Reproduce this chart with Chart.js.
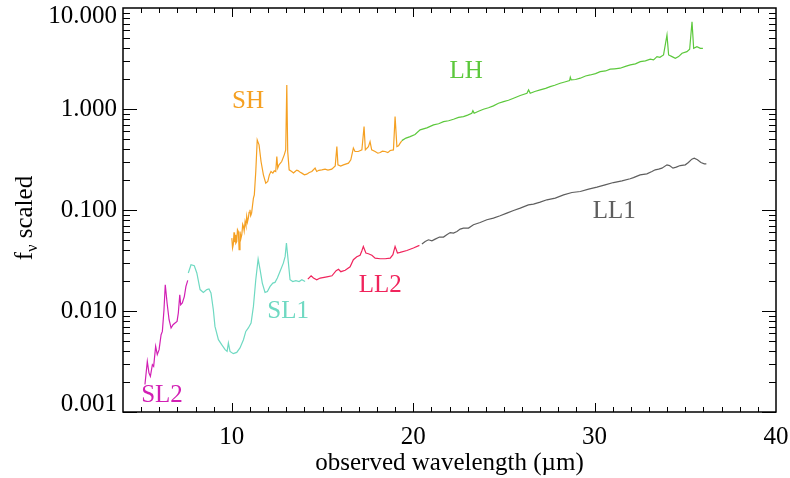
<!DOCTYPE html>
<html>
<head>
<meta charset="utf-8">
<script src="https://cdn.jsdelivr.net/npm/chart.js@4.4.1/dist/chart.umd.min.js"></script>
<style>
  html, body { margin: 0; padding: 0; background: #fff; }
  #wrap { width: 790px; height: 478px; }
</style>
</head>
<body>
<div id="wrap"><canvas id="spec"></canvas></div>
<script>
// wavelengths in micron, flux density (scaled)
const sl2Wave = [5.21, 5.34, 5.43, 5.51, 5.62, 5.69, 5.80, 5.89, 5.99, 6.10, 6.17, 6.26, 6.33, 6.43, 6.54, 6.65, 6.76, 6.87, 6.98, 7.05, 7.13, 7.18, 7.27, 7.38, 7.47, 7.57];
const sl2Flux = [0.00187, 0.00317, 0.00244, 0.00225, 0.00294, 0.00283, 0.00447, 0.00370, 0.00414, 0.00583, 0.00628, 0.0103, 0.0182, 0.0120, 0.0082, 0.00679, 0.00732, 0.0076, 0.00789, 0.00955, 0.0145, 0.0115, 0.0120, 0.0139, 0.0175, 0.0201];

const sl1Wave = [7.60, 7.75, 7.93, 8.07, 8.25, 8.43, 8.62, 8.74, 8.85, 8.98, 9.07, 9.26, 9.44, 9.63, 9.74, 9.81, 9.90, 10.08, 10.27, 10.45, 10.64, 10.77, 10.91, 11.06, 11.19, 11.32, 11.45, 11.56, 11.68, 11.83, 11.96, 12.11, 12.26, 12.38, 12.51, 12.66, 12.84, 12.94, 13.01, 13.12, 13.21, 13.36, 13.53, 13.71, 13.86, 14.04];
const sl1Flux = [0.0238, 0.0287, 0.0281, 0.0238, 0.0163, 0.0153, 0.0163, 0.0165, 0.0151, 0.0103, 0.00704, 0.0052, 0.00464, 0.00414, 0.00398, 0.00482, 0.00398, 0.00378, 0.00389, 0.00431, 0.0052, 0.00628, 0.00679, 0.0076, 0.0111, 0.0204, 0.0327, 0.0256, 0.0189, 0.0153, 0.0156, 0.0175, 0.0189, 0.0192, 0.0212, 0.0247, 0.0298, 0.0347, 0.0471, 0.0298, 0.0204, 0.0196, 0.0200, 0.0196, 0.0204, 0.0196];

const ll2Wave = [14.19, 14.37, 14.50, 14.68, 14.87, 15.24, 15.52, 15.75, 15.88, 16.01, 16.25, 16.52, 16.70, 16.89, 17.07, 17.17, 17.25, 17.39, 17.53, 17.72, 17.90, 18.18, 18.45, 18.73, 18.88, 19.00, 19.13, 19.28, 19.65, 20.01, 20.34];
const ll2Flux = [0.0207, 0.0223, 0.0212, 0.0204, 0.0212, 0.0218, 0.0223, 0.0251, 0.0259, 0.0245, 0.0253, 0.0274, 0.0322, 0.0344, 0.0356, 0.0395, 0.0436, 0.0375, 0.0369, 0.0356, 0.0334, 0.0329, 0.0329, 0.0334, 0.0361, 0.0436, 0.0375, 0.038, 0.0397, 0.042, 0.0446];

const ll1Wave = [20.48, 20.66, 20.84, 21.03, 21.21, 21.45, 21.67, 21.85, 22.04, 22.22, 22.41, 22.59, 22.77, 23.05, 23.32, 23.69, 24.06, 24.42, 24.79, 25.16, 25.53, 25.90, 26.35, 26.63, 27.00, 27.37, 27.83, 28.29, 28.75, 29.21, 29.67, 30.13, 30.58, 31.04, 31.51, 31.96, 32.14, 32.51, 32.88, 33.16, 33.34, 33.53, 33.71, 33.99, 34.13, 34.32, 34.50, 34.72, 35.00, 35.17, 35.36, 35.49, 35.67, 35.86, 36.05, 36.16];
const ll1Flux = [0.046, 0.0488, 0.0507, 0.0496, 0.0515, 0.054, 0.054, 0.0569, 0.0598, 0.0591, 0.0612, 0.0647, 0.0662, 0.0662, 0.0714, 0.0752, 0.080, 0.0832, 0.0877, 0.0931, 0.0989, 0.1045, 0.1125, 0.1143, 0.1197, 0.1262, 0.1312, 0.1413, 0.149, 0.1524, 0.161, 0.1686, 0.1775, 0.187, 0.1945, 0.2037, 0.2094, 0.2228, 0.228, 0.2404, 0.25, 0.254, 0.2597, 0.28, 0.2754, 0.2597, 0.2655, 0.2754, 0.28, 0.2951, 0.3187, 0.326, 0.314, 0.2951, 0.2864, 0.2864];

const shWave = [10.00, 10.04, 10.08, 10.12, 10.15, 10.18, 10.22, 10.27, 10.31, 10.36, 10.40, 10.45, 10.50, 10.55, 10.60, 10.64, 10.68, 10.73, 10.78, 10.82, 10.86, 10.91, 10.95, 11.00, 11.04, 11.09, 11.19, 11.24, 11.32, 11.40, 11.50, 11.61, 11.74, 11.87, 11.98, 12.07, 12.16, 12.26, 12.34, 12.42, 12.48, 12.53, 12.60, 12.75, 12.89, 12.97, 13.03, 13.08, 13.16, 13.30, 13.40, 13.49, 13.58, 13.67, 13.77, 13.86, 14.00, 14.13, 14.27, 14.41, 14.59, 14.68, 14.80, 14.96, 15.14, 15.30, 15.51, 15.70, 15.79, 15.85, 16.00, 16.15, 16.43, 16.56, 16.70, 16.79, 16.97, 17.17, 17.29, 17.36, 17.53, 17.62, 17.71, 17.90, 18.05, 18.18, 18.30, 18.45, 18.60, 18.73, 18.91, 19.00, 19.10, 19.19, 19.28, 19.37];
const shFlux = [0.0527, 0.0420, 0.0453, 0.0600, 0.0480, 0.0569, 0.0470, 0.0488, 0.0640, 0.0612, 0.0404, 0.0612, 0.0520, 0.0569, 0.0720, 0.0687, 0.0620, 0.0769, 0.0700, 0.0863, 0.0760, 0.0832, 0.0950, 0.1004, 0.0880, 0.0931, 0.1312, 0.1413, 0.2404, 0.4943, 0.4416, 0.302, 0.2228, 0.1845, 0.1914, 0.2228, 0.2404, 0.2317, 0.2443, 0.2404, 0.338, 0.2597, 0.28, 0.302, 0.3516, 0.3936, 1.73, 0.3793, 0.25, 0.2404, 0.2330, 0.2404, 0.2480, 0.2443, 0.2360, 0.2317, 0.2228, 0.2265, 0.2350, 0.2404, 0.2597, 0.2404, 0.2470, 0.25, 0.254, 0.2480, 0.254, 0.2735, 0.4246, 0.28, 0.2720, 0.28, 0.291, 0.314, 0.4093, 0.3793, 0.3793, 0.3936, 0.67, 0.3936, 0.4246, 0.4764, 0.3936, 0.3793, 0.3650, 0.3707, 0.3820, 0.3793, 0.3700, 0.388, 0.3936, 0.841, 0.4246, 0.4315, 0.459, 0.483];

const lhWave = [19.37, 19.60, 19.83, 20.10, 20.38, 20.75, 21.12, 21.40, 21.67, 21.95, 22.22, 22.50, 22.77, 23.00, 23.23, 23.29, 23.36, 23.60, 23.87, 24.15, 24.42, 24.70, 24.98, 25.25, 25.53, 25.90, 26.27, 26.36, 26.45, 26.70, 27.00, 27.30, 27.55, 27.80, 28.10, 28.35, 28.62, 28.66, 28.71, 28.95, 29.21, 29.50, 29.76, 30.05, 30.31, 30.60, 30.86, 31.10, 31.41, 31.70, 31.97, 32.25, 32.52, 32.80, 33.07, 33.25, 33.44, 33.60, 33.80, 33.99, 34.08, 34.27, 34.45, 34.63, 34.82, 35.09, 35.24, 35.37, 35.46, 35.64, 35.83, 35.97];
const lhFlux = [0.4864, 0.5150, 0.5333, 0.5600, 0.6209, 0.6500, 0.6966, 0.7150, 0.7499, 0.7650, 0.7925, 0.8250, 0.8414, 0.8700, 0.9078, 0.9638, 0.9078, 0.9500, 0.9954, 1.030, 1.074, 1.140, 1.183, 1.220, 1.279, 1.360, 1.432, 1.545, 1.432, 1.490, 1.545, 1.600, 1.667, 1.720, 1.799, 1.850, 1.91, 2.065, 1.941, 1.960, 2.018, 2.120, 2.173, 2.240, 2.344, 2.380, 2.477, 2.500, 2.535, 2.640, 2.73, 2.800, 2.944, 3.000, 3.112, 3.060, 3.3, 3.250, 3.428, 5.408, 3.428, 3.3, 3.179, 3.3, 3.565, 3.698, 3.9, 7.32, 3.99, 4.14, 3.99, 3.99];

const xMajor = [10, 20, 30, 40];
const yMajor = [0.001, 0.01, 0.1, 1, 10];

const serif = "'Liberation Serif', 'DejaVu Serif', serif";

const modules = [
  { name: 'SL2', wave: sl2Wave, flux: sl2Flux, color: '#d21fb4', at: [6.15, 0.00145] },
  { name: 'SL1', wave: sl1Wave, flux: sl1Flux, color: '#6fd9c2', at: [13.10, 0.0098] },
  { name: 'LL2', wave: ll2Wave, flux: ll2Flux, color: '#f0245c', at: [18.18, 0.0178] },
  { name: 'LL1', wave: ll1Wave, flux: ll1Flux, color: '#5e5e5e', at: [31.08, 0.0959] },
  { name: 'SH',  wave: shWave,  flux: shFlux,  color: '#f5a022', at: [10.89, 1.175] },
  { name: 'LH',  wave: lhWave,  flux: lhFlux,  color: '#5cc83c', at: [22.92, 2.38] },
];

const frame = {
  id: 'frame',
  afterDatasetsDraw(chart) {
    const { ctx, chartArea: a, scales: { x, y } } = chart;
    ctx.save();

    // module names next to their pieces of spectrum
    ctx.font = '25px ' + serif;
    ctx.textAlign = 'center';
    ctx.textBaseline = 'middle';
    modules.forEach(m => {
      ctx.fillStyle = m.color;
      ctx.fillText(m.name, x.getPixelForValue(m.at[0]), y.getPixelForValue(m.at[1]));
    });

    // box + inward ticks on all four sides
    ctx.strokeStyle = '#000';
    ctx.lineWidth = 1.5;
    ctx.strokeRect(a.left, a.top, a.right - a.left, a.bottom - a.top);
    ctx.lineWidth = 1;
    ctx.beginPath();
    for (let w = 5; w < 40; w++) {
      const px = Math.round(x.getPixelForValue(w)) + 0.5;
      const len = w % 10 === 0 ? 9 : 5;
      ctx.moveTo(px, a.bottom); ctx.lineTo(px, a.bottom - len);
      ctx.moveTo(px, a.top); ctx.lineTo(px, a.top + len);
    }
    for (let e = -3; e < 1; e++) {
      for (let k = 1; k < 10; k++) {
        const py = Math.round(y.getPixelForValue(k * Math.pow(10, e))) + 0.5;
        const len = k === 1 ? 14 : 7;
        ctx.moveTo(a.left, py); ctx.lineTo(a.left + len, py);
        ctx.moveTo(a.right, py); ctx.lineTo(a.right - len, py);
      }
    }
    ctx.stroke();

    // y title with a subscript nu
    ctx.fillStyle = '#000';
    ctx.translate(32, (a.top + a.bottom) / 2 + 8);
    ctx.rotate(-Math.PI / 2);
    ctx.textAlign = 'left';
    ctx.textBaseline = 'alphabetic';
    const big = '25px ' + serif, small = '16px ' + serif;
    ctx.font = big; const wf = ctx.measureText('f').width;
    ctx.font = small; const wn = ctx.measureText('\u03bd').width;
    ctx.font = big; const ws = ctx.measureText(' scaled').width;
    let cx = -(wf + wn + ws) / 2;
    ctx.fillText('f', cx, 0); cx += wf;
    ctx.font = small; ctx.fillText('\u03bd', cx, 5); cx += wn;
    ctx.font = big; ctx.fillText(' scaled', cx, 0);
    ctx.restore();
  }
};

new Chart(document.getElementById('spec'), {
  type: 'scatter',
  data: {
    datasets: modules.map(m => ({
      label: m.name,
      data: m.wave.map((w, i) => ({ x: w, y: m.flux[i] })),
      showLine: true,
      borderColor: m.color,
      backgroundColor: m.color,
      borderWidth: 1.2,
      pointRadius: 0,
      tension: 0,
    })),
  },
  options: {
    responsive: true,
    maintainAspectRatio: false,
    animation: false,
    devicePixelRatio: 1,
    layout: { padding: { top: 8, right: 14, left: 0, bottom: 0 } },
    plugins: { legend: { display: false }, tooltip: { enabled: false } },
    scales: {
      x: {
        type: 'linear',
        min: 4,
        max: 40,
        afterBuildTicks: (s) => { s.ticks = xMajor.map(v => ({ value: v })); },
        afterFit: (s) => { s.height = 66; s.paddingLeft = 0; s.paddingRight = 0; },
        grid: { display: false, drawTicks: false },
        border: { display: false },
        ticks: { color: '#000', padding: 10, maxRotation: 0, font: { family: serif, size: 25 } },
        title: {
          display: true,
          text: 'observed wavelength (\u00b5m)',
          color: '#000',
          padding: { top: 0, bottom: 0 },
          font: { family: serif, size: 25 },
        },
      },
      y: {
        type: 'logarithmic',
        min: 0.001,
        max: 10,
        afterBuildTicks: (s) => { s.ticks = yMajor.map(v => ({ value: v })); },
        afterFit: (s) => { s.width = 123; s.paddingTop = 0; s.paddingBottom = 0; },
        grid: { display: false, drawTicks: false },
        border: { display: false },
        ticks: {
          color: '#000',
          padding: 6,
          font: { family: serif, size: 25, lineHeight: 0.64 },
          // end labels sit just inside the box, like the original
          callback: (v) => {
            const t = Number(v).toFixed(3);
            if (v >= 10) return ['', t];
            if (v <= 0.001) return [t, ''];
            return t;
          },
        },
      },
    },
  },
  plugins: [frame],
});
</script>
</body>
</html>
